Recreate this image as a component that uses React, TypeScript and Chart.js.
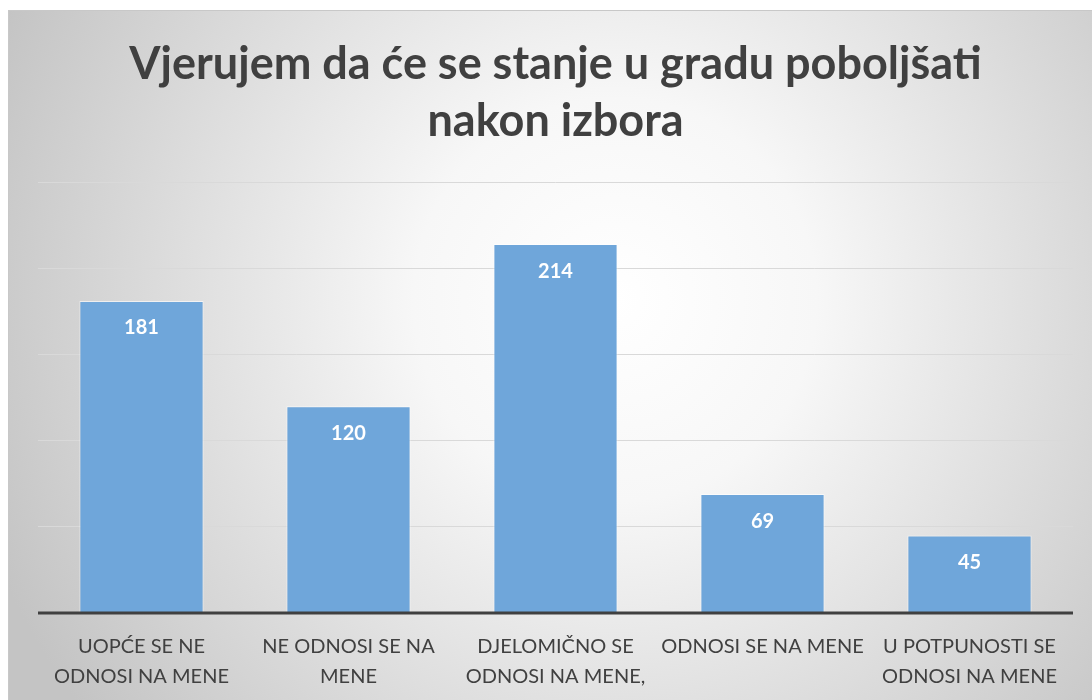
import React, { useEffect, useRef } from "react";
import { Chart, registerables } from "chart.js";

Chart.register(...registerables);

const TITLE_LINES = ["Vjerujem da će se stanje u gradu poboljšati", "nakon izbora"];
const CATEGORIES: string[][] = [
  ["UOPĆE SE NE", "ODNOSI NA MENE"],
  ["NE ODNOSI SE NA", "MENE"],
  ["DJELOMIČNO SE", "ODNOSI NA MENE,"],
  ["ODNOSI SE NA MENE"],
  ["U POTPUNOSTI SE", "ODNOSI NA MENE"],
];
const VALUES = [181, 120, 214, 69, 45];
const Y_MIN = 0;
const Y_MAX = 250;
const Y_STEP = 50;

const bgPlugin = {
  id: "bgPlugin",
  beforeDraw(chart: any) {
    const { ctx, width } = chart;
    const height = 690;
    ctx.save();
    const g = ctx.createRadialGradient(width * 0.56, height * 0.42, 0, width * 0.56, height * 0.42, width * 0.62);
    g.addColorStop(0, "#ffffff");
    g.addColorStop(0.3, "#f7f7f7");
    g.addColorStop(1, "#c4c4c4");
    ctx.fillStyle = g;
    ctx.fillRect(0, 0, width, chart.height);
    ctx.strokeStyle = "#c8c8c8";
    ctx.lineWidth = 1;
    ctx.strokeRect(0.5, 0.5, width, chart.height + 5);
    ctx.restore();
  },
};

const axisLinePlugin = {
  id: "axisLinePlugin",
  afterDatasetsDraw(chart: any) {
    const { ctx, chartArea } = chart;
    const y0 = chart.scales.y.getPixelForValue(Y_MIN);
    ctx.save();
    ctx.strokeStyle = "#404040";
    ctx.lineWidth = 3;
    ctx.beginPath();
    ctx.moveTo(chartArea.left, y0);
    ctx.lineTo(chartArea.right, y0);
    ctx.stroke();
    ctx.restore();
  },
};

const labelPlugin = {
  id: "labelPlugin",
  afterDatasetsDraw(chart: any) {
    const { ctx } = chart;
    const meta = chart.getDatasetMeta(0);
    ctx.save();
    ctx.fillStyle = "#ffffff";
    ctx.font = "bold 20px Lato";
    ctx.textAlign = "center";
    ctx.textBaseline = "middle";
    meta.data.forEach((bar: any, i: number) => {
      ctx.fillText(String(VALUES[i]), bar.x, bar.y + 27);
    });
    ctx.restore();
  },
};

export default function App() {
  const ref = useRef<HTMLCanvasElement>(null);
  useEffect(() => {
    if (!ref.current) return;
    const chart = new Chart(ref.current, {
      type: "bar",
      data: {
        labels: CATEGORIES,
        datasets: [
          {
            data: VALUES,
            backgroundColor: "#6fa6da",
            borderColor: "rgba(255,255,255,0.6)",
            borderWidth: 1,
            barPercentage: 0.6,
            categoryPercentage: 1,
          },
        ],
      },
      options: {
        animation: false,
        responsive: false,
        maintainAspectRatio: false,
        layout: { padding: { left: 30, right: 19, top: 0, bottom: 0 } },
        plugins: {
          legend: { display: false },
          tooltip: { enabled: false },
          title: {
            display: true,
            text: TITLE_LINES,
            color: "#404040",
            font: { family: "Lato", size: 45, weight: "bold", lineHeight: 1.267 },
            padding: { top: 26, bottom: 32 },
          },
        },
        scales: {
          x: {
            grid: { display: false, drawTicks: false },
            border: { display: false },
            ticks: {
              color: "#404040",
              font: { family: "Lato", size: 20, lineHeight: 1.5 },
              padding: 19,
              maxRotation: 0,
              autoSkip: false,
            },
          },
          y: {
            min: Y_MIN,
            max: Y_MAX,
            grid: { color: "#d9d9d9", lineWidth: 1, drawTicks: false },
            border: { display: false },
            ticks: { display: false, stepSize: Y_STEP },
          },
        },
      },
      plugins: [bgPlugin, axisLinePlugin, labelPlugin],
    });
    return () => chart.destroy();
  }, []);
  return (
    <div style={{ position: "absolute", left: 8, top: 10, width: 1084, height: 690, overflow: "hidden" }}>
      <canvas ref={ref} width={1084} height={701} style={{ display: "block" }} />
    </div>
  );
}
